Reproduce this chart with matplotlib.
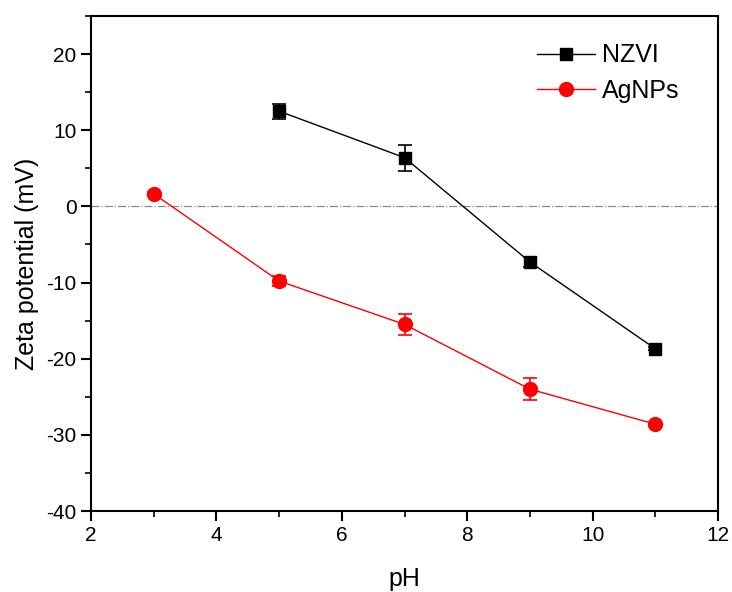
import matplotlib
matplotlib.use("Agg")
import matplotlib.pyplot as plt
from matplotlib.ticker import MultipleLocator
from matplotlib.lines import Line2D

plt.rcParams['font.family'] = ['Liberation Sans', 'DejaVu Sans']
plt.rcParams['axes.unicode_minus'] = False

ph_nzvi = [5, 7, 9, 11]
zeta_nzvi = [12.5, 6.4, -7.3, -18.7]
err_nzvi = [1.0, 1.7, 0.6, 0.2]

ph_ag = [3, 5, 7, 9, 11]
zeta_ag = [1.65, -9.8, -15.5, -24.0, -28.6]
err_ag = [0.2, 0.6, 1.4, 1.45, 0.2]

fig = plt.figure(figsize=(7.32, 5.92), dpi=100)
ax = fig.add_axes([0.1243, 0.1368, 0.8566, 0.8362])

ax.axhline(0, color='#888888', lw=0.9, ls='-.', zorder=1)

ax.errorbar(ph_nzvi, zeta_nzvi, yerr=err_nzvi, color='black', lw=1, marker='s',
            ms=9, capsize=5, elinewidth=1.2, capthick=1.2, zorder=3)
ax.errorbar(ph_ag, zeta_ag, yerr=err_ag, color='red', lw=1, marker='o',
            ms=10, capsize=5, elinewidth=1.2, capthick=1.2, zorder=3)

handles = [Line2D([], [], color='black', lw=1, marker='s', ms=9),
           Line2D([], [], color='red', lw=1, marker='o', ms=10)]
ax.legend(handles, ['NZVI', 'AgNPs'], loc='upper right', frameon=False, fontsize=18,
          handlelength=2.3, bbox_to_anchor=(0.975, 0.99), handletextpad=0.3,
          labelspacing=0.45)

ax.set_xlim(2, 12)
ax.set_ylim(-40, 25)
ax.xaxis.set_major_locator(MultipleLocator(2))
ax.xaxis.set_minor_locator(MultipleLocator(1))
ax.set_yticks([-40, -30, -20, -10, 0, 10, 20])
ax.yaxis.set_minor_locator(MultipleLocator(5))
ax.tick_params(which='major', direction='out', length=7, width=1.5, labelsize=15)
ax.tick_params(which='minor', direction='out', length=4, width=1.2)
for s in ax.spines.values():
    s.set_linewidth(1.5)

ax.set_xlabel('pH', fontsize=18, labelpad=16)
ax.set_ylabel('Zeta potential (mV)', fontsize=18, labelpad=5)

fig.savefig('out.png', dpi=100)
